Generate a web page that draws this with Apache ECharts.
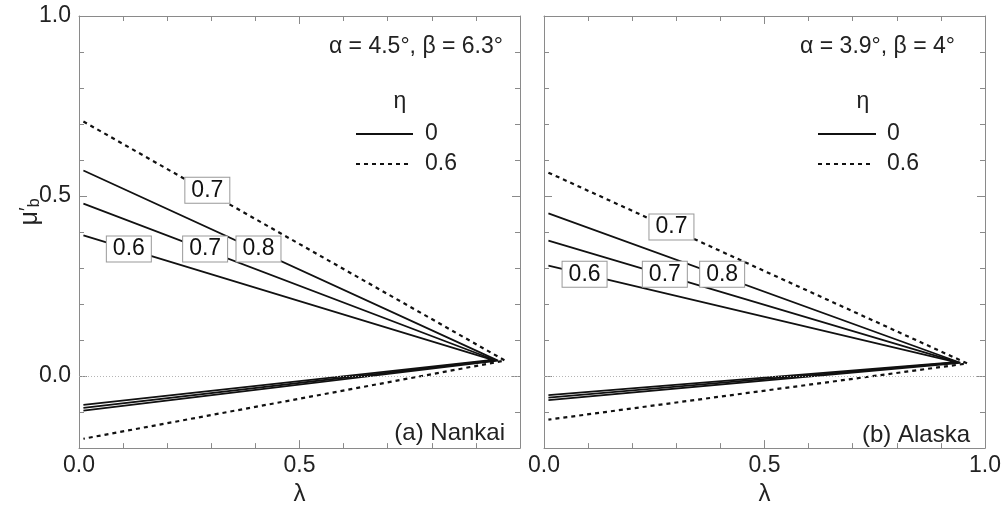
<!DOCTYPE html>
<html>
<head>
<meta charset="utf-8">
<script src="https://cdn.jsdelivr.net/npm/echarts@6/dist/echarts.min.js"></script>
<style>
  html, body { margin: 0; padding: 0; background: #fff; }
  #chart { width: 1008px; height: 511px; }
</style>
</head>
<body>
<div id="chart"></div>
<script>
// curves are [lambda, mu'_b] points: upper branch start, tip, lower branch start
// (a) Nankai
const nankaiEta0_c06 = [[0.01, 0.391], [0.938, 0.045], [0.01, -0.080]]
const nankaiEta0_c07 = [[0.01, 0.479], [0.944, 0.044], [0.01, -0.088]]
const nankaiEta0_c08 = [[0.01, 0.571], [0.950, 0.043], [0.01, -0.096]]
const nankaiEta06_c07 = [[0.01, 0.707], [0.966, 0.043], [0.01, -0.174]]
const nankaiLabels = [[0.113, 0.353, '0.6'], [0.286, 0.353, '0.7'], [0.407, 0.353, '0.8'], [0.291, 0.516, '0.7']]

// (b) Alaska
const alaskaEta0_c06 = [[0.01, 0.307], [0.934, 0.039], [0.01, -0.053]]
const alaskaEta0_c07 = [[0.01, 0.376], [0.939, 0.038], [0.01, -0.060]]
const alaskaEta0_c08 = [[0.01, 0.452], [0.944, 0.037], [0.01, -0.067]]
const alaskaEta06_c07 = [[0.01, 0.565], [0.960, 0.035], [0.01, -0.121]]
const alaskaLabels = [[0.092, 0.283, '0.6'], [0.274, 0.283, '0.7'], [0.404, 0.283, '0.8'], [0.289, 0.414, '0.7']]

const xTickLabelsLeft = [0, 0.5]
const xTickLabelsRight = [0, 0.5, 1]
const yTickLabels = [0, 0.5, 1]
const yMajorTicks = [0, 0.5, 1]

const FONT = 'Liberation Sans, Arial, Helvetica, sans-serif'
const axisGray = '#8a8a8a'
const ink = '#111'

const myChart = echarts.init(document.getElementById('chart'))

const xAxisPair = (grid, labels) => {
  const base = {
    gridIndex: grid,
    type: 'value',
    min: 0,
    max: 1,
    interval: 0.5,
    axisLine: { show: true, onZero: false, lineStyle: { color: axisGray, width: 1 } },
    axisTick: { show: true, inside: true, length: 8, lineStyle: { color: axisGray } },
    minorTick: { show: true, splitNumber: 5, length: 5, lineStyle: { color: axisGray } },
    splitLine: { show: false },
    minorSplitLine: { show: false }
  }
  return [
    {
      ...base,
      position: 'bottom',
      name: 'λ',
      nameLocation: 'middle',
      nameGap: 27,
      nameTextStyle: { fontFamily: FONT, fontSize: 24, color: '#222' },
      axisLabel: {
        show: true,
        customValues: labels,
        margin: 6,
        fontFamily: FONT,
        fontSize: 23,
        color: '#222',
        formatter: v => v.toFixed(1)
      }
    },
    { ...base, position: 'top', axisLabel: { show: false } }
  ]
}

const yAxisSet = (grid, showLabels) => {
  const base = {
    gridIndex: grid,
    type: 'value',
    min: -0.2,
    max: 1.0,
    interval: 0.1,
    splitLine: { show: false }
  }
  const minor = pos => ({
    ...base,
    position: pos,
    axisLine: { show: true, onZero: false, lineStyle: { color: axisGray, width: 1 } },
    axisTick: { show: true, inside: true, length: 5, lineStyle: { color: axisGray } },
    axisLabel: { show: false }
  })
  const major = pos => ({
    ...base,
    position: pos,
    axisLine: { show: false, onZero: false },
    axisTick: { show: true, inside: true, length: 8, customValues: yMajorTicks, lineStyle: { color: axisGray } },
    axisLabel: { show: false }
  })
  const left = minor('left')
  if (showLabels) {
    left.axisLabel = {
      show: true,
      customValues: yTickLabels,
      margin: 8,
      fontFamily: FONT,
      fontSize: 23,
      color: '#222',
      formatter: v => v.toFixed(1)
    }
  }
  return [left, major('left'), minor('right'), major('right')]
}

const curve = (data, xi, yi, dashed) => ({
  type: 'line',
  xAxisIndex: xi,
  yAxisIndex: yi,
  data: data,
  symbol: 'none',
  silent: true,
  z: 2,
  lineStyle: { color: ink, width: dashed ? 2.2 : 1.8, type: dashed ? [4, 4] : 'solid' }
})

const zeroLine = (xi, yi) => ({
  type: 'line',
  xAxisIndex: xi,
  yAxisIndex: yi,
  data: [],
  silent: true,
  z: 1,
  markLine: {
    silent: true,
    symbol: 'none',
    label: { show: false },
    lineStyle: { color: '#b5b5b5', width: 1, type: [1, 2] },
    data: [{ yAxis: 0 }]
  }
})

const contourLabels = (data, xi, yi) => ({
  type: 'scatter',
  xAxisIndex: xi,
  yAxisIndex: yi,
  data: data,
  symbolSize: 0,
  silent: true,
  z: 10,
  itemStyle: { color: ink, opacity: 1 },
  label: {
    show: true,
    position: 'inside',
    formatter: p => '{t|' + p.value[2] + '}',
    backgroundColor: '#fff',
    borderColor: '#999',
    borderWidth: 1,
    padding: [1, 6, 1, 6],
    rich: {
      t: {
        fontFamily: FONT,
        fontSize: 23,
        lineHeight: 23,
        color: '#111',
        textBorderWidth: 0,
        opacity: 1
      }
    }
  }
})

const txt = (text, x, y, align, size) => ({
  type: 'text',
  silent: true,
  z: 20,
  style: {
    text: text,
    x: x,
    y: y,
    align: align,
    textAlign: align,
    verticalAlign: 'middle',
    textVerticalAlign: 'middle',
    fill: '#222',
    font: `${size || 23}px ${FONT}`
  }
})

const legendLine = (x1, x2, y, dashed) => ({
  type: 'line',
  silent: true,
  z: 20,
  shape: { x1: x1, y1: y, x2: x2, y2: y },
  style: { stroke: ink, lineWidth: dashed ? 2 : 1.8, lineDash: dashed ? [4, 4] : null }
})

const options = {
  animation: false,
  backgroundColor: '#fff',
  grid: [
    { left: 79, right: 488, top: 16, bottom: 53 },
    { left: 544, right: 23, top: 16, bottom: 53 }
  ],
  xAxis: [...xAxisPair(0, xTickLabelsLeft), ...xAxisPair(1, xTickLabelsRight)],
  yAxis: [...yAxisSet(0, true), ...yAxisSet(1, false)],
  series: [
    zeroLine(0, 0),
    curve(nankaiEta0_c06, 0, 0, false),
    curve(nankaiEta0_c07, 0, 0, false),
    curve(nankaiEta0_c08, 0, 0, false),
    curve(nankaiEta06_c07, 0, 0, true),
    contourLabels(nankaiLabels, 0, 0),
    zeroLine(2, 4),
    curve(alaskaEta0_c06, 2, 4, false),
    curve(alaskaEta0_c07, 2, 4, false),
    curve(alaskaEta0_c08, 2, 4, false),
    curve(alaskaEta06_c07, 2, 4, true),
    contourLabels(alaskaLabels, 2, 4)
  ],
  graphic: [
    // y axis title  mu'_b
    {
      type: 'text',
      silent: true,
      x: 30,
      y: 212,
      rotation: Math.PI / 2,
      style: {
        text: '{m|μ}{p|′}{b|b}',
        align: 'center',
        verticalAlign: 'middle',
        rich: {
          m: { fontFamily: FONT, fontSize: 25, fill: '#222', color: '#222' },
          p: { fontFamily: FONT, fontSize: 20, fill: '#222', color: '#222', verticalAlign: 'top' },
          b: { fontFamily: FONT, fontSize: 16, fill: '#222', color: '#222', verticalAlign: 'bottom' }
        }
      }
    },
    // (a) panel
    txt('α = 4.5°, β = 6.3°', 503, 47, 'right'),
    txt('η', 400, 102, 'center'),
    legendLine(356, 413, 134, false),
    txt('0', 425, 134, 'left'),
    legendLine(356, 410, 164, true),
    txt('0.6', 425, 164, 'left'),
    txt('(a) Nankai', 505, 433, 'right', 24),
    // (b) panel
    txt('α = 3.9°, β = 4°', 955, 47, 'right'),
    txt('η', 863, 102, 'center'),
    legendLine(818, 876, 134, false),
    txt('0', 887, 134, 'left'),
    legendLine(818, 872, 164, true),
    txt('0.6', 887, 164, 'left'),
    txt('(b) Alaska', 970, 435, 'right', 24)
  ]
}

myChart.setOption(options)
</script>
</body>
</html>
